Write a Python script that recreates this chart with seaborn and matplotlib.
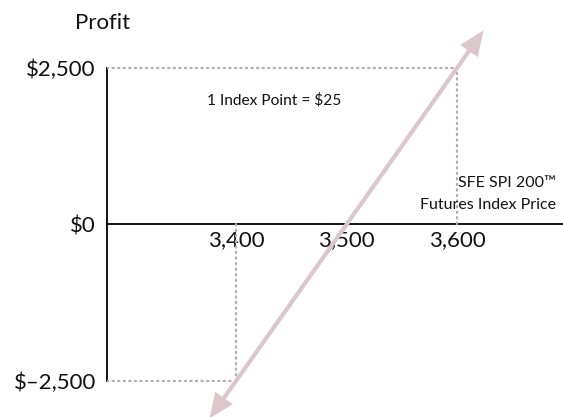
import matplotlib
matplotlib.use("Agg")
import matplotlib.pyplot as plt
import seaborn as sns
import pandas as pd

sns.set_style("white")
plt.rcParams['font.family'] = ['Lato', 'DejaVu Sans']

# data
prices = [3376, 3400, 3500, 3600, 3624]
profits = [-3100, -2500, 0, 2500, 3100]
x_ticks = [3400, 3500, 3600]
x_tick_labels = ["3,400", "3,500", "3,600"]
y_ticks = [-2500, 0, 2500]
y_tick_labels = ["$\u20132,500", "$0", "$2,500"]

df = pd.DataFrame({"price": prices, "profit": profits})

W, H = 563, 417
fig = plt.figure(figsize=(W / 100, H / 100), dpi=100)
ax = fig.add_axes([107 / W, 0, 456 / W, 1])

line_color = "#dcc7cd"
LW = 3.0
sns.lineplot(data=df.iloc[1:-1], x="price", y="profit", ax=ax, color=line_color,
             lw=LW, solid_capstyle="butt")
for (x0, y0, x1, y1) in [(prices[1], profits[1], prices[0], profits[0]),
                         (prices[-2], profits[-2], prices[-1], profits[-1])]:
    ax.annotate("", xy=(x1, y1), xytext=(x0, y0), annotation_clip=False,
                arrowprops=dict(arrowstyle="-|>,head_length=0.8,head_width=0.34",
                                color=line_color, lw=LW, mutation_scale=16,
                                shrinkA=0, shrinkB=0, joinstyle="miter",
                                capstyle="butt"))

xmin, xmax = 3283.3, 3695.9
ymin, ymax = -3075, 3586
ax.set_xlim(xmin, xmax)
ax.set_ylim(ymin, ymax)

dot_kw = dict(color="#b0b0b0", lw=1.6, linestyle=(0, (0.6, 1.9)),
              dash_capstyle="round", zorder=1)
ax.plot([xmin, x_ticks[2]], [y_ticks[2], y_ticks[2]], **dot_kw)
ax.plot([x_ticks[2], x_ticks[2]], [0, y_ticks[2]], **dot_kw)
ax.plot([xmin, x_ticks[0]], [y_ticks[0], y_ticks[0]], **dot_kw)
ax.plot([x_ticks[0], x_ticks[0]], [y_ticks[0], 0], **dot_kw)

for s in ["top", "right"]:
    ax.spines[s].set_visible(False)
ax.spines["left"].set_bounds(y_ticks[0], y_ticks[2])
ax.spines["bottom"].set_position(("data", 0))
for s in ["left", "bottom"]:
    ax.spines[s].set_color("black")
    ax.spines[s].set_linewidth(1.3)
    ax.spines[s].set_zorder(0.5)

ax.set_xticks(x_ticks)
ax.set_xticklabels(x_tick_labels)
ax.set_yticks(y_ticks)
ax.set_yticklabels(y_tick_labels)
ax.tick_params(axis="both", length=0, labelsize=16, colors="#111111")
ax.tick_params(axis="y", pad=8)
ax.tick_params(axis="x", pad=4)
ax.set_xlabel("")
ax.set_ylabel("")

fig.text(103 / W, 1 - 23 / H, "Profit", ha="center", va="center", fontsize=16,
         color="#111111")
fig.text(207 / W, 1 - 100 / H, "1 Index Point = $25", ha="left", va="center",
         fontsize=11.2, color="#111111")
fig.text(556 / W, 1 - 183 / H, "SFE SPI 200\u2122", ha="right", va="center",
         fontsize=11.5, color="#111111")
fig.text(556 / W, 1 - 205 / H, "Futures Index Price", ha="right", va="center",
         fontsize=11.5, color="#111111")

fig.savefig("out.png", dpi=100)
